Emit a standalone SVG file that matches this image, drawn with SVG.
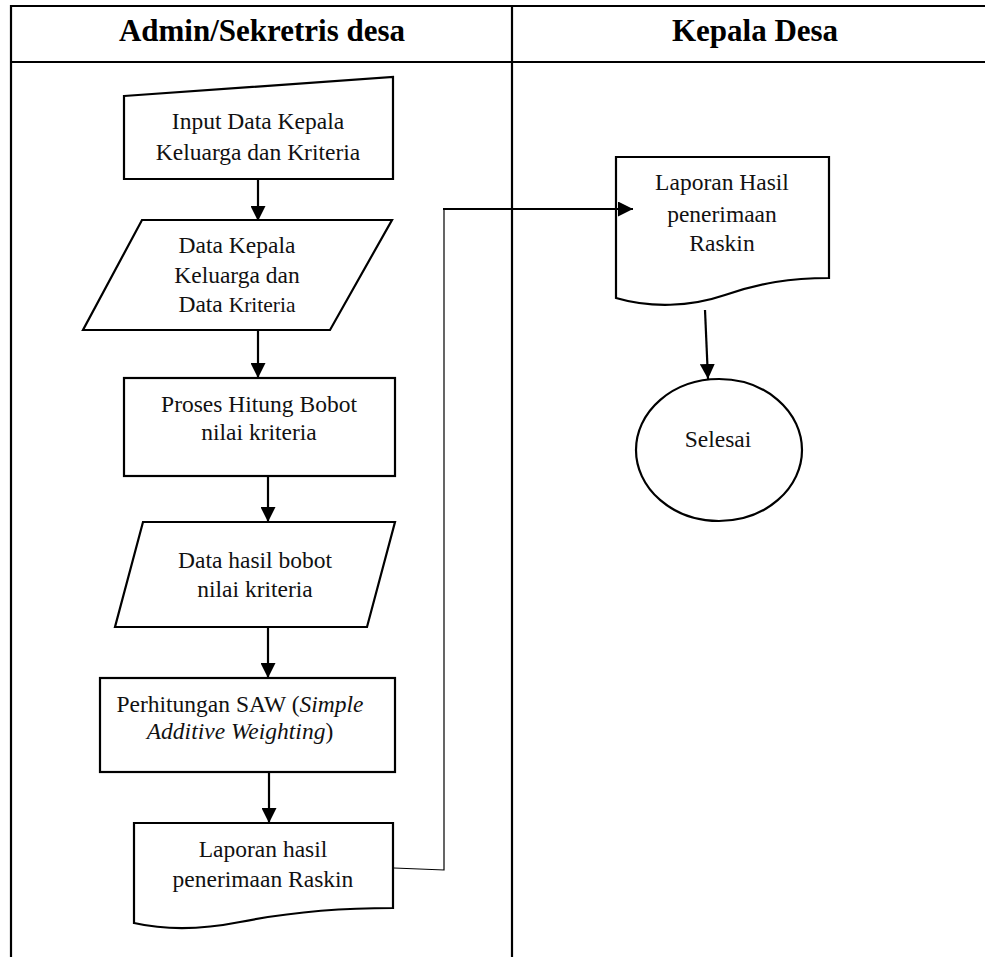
<svg xmlns="http://www.w3.org/2000/svg" width="985" height="957" viewBox="0 0 985 957">
<style>
.ln{stroke:#000;stroke-width:2.2;fill:none}
.sh{stroke:#000;stroke-width:2.2;fill:#fff}
.t{font-family:"Liberation Serif","Times New Roman",serif;font-size:23.5px;fill:#111;text-anchor:middle}
.h{font-family:"Liberation Serif","Times New Roman",serif;font-size:31px;font-weight:bold;fill:#000;text-anchor:middle}
.c{stroke:#000;stroke-width:2.2;fill:none}
.c1{stroke:#000;stroke-width:1.2;fill:none}
</style>
<defs>
<marker id="ah" viewBox="0 0 10 10" refX="10" refY="5" markerWidth="15" markerHeight="15" markerUnits="userSpaceOnUse" orient="auto">
<path d="M0,0 L10,5 L0,10 z" fill="#000"/>
</marker>
</defs>
<rect width="985" height="957" fill="#fff"/>
<g id="table">
<line class="ln" x1="11" y1="6" x2="985" y2="6"/>
<line class="ln" x1="11" y1="62" x2="985" y2="62"/>
<line class="ln" x1="11" y1="5" x2="11" y2="957"/>
<line class="ln" x1="512" y1="5" x2="512" y2="957"/>
<text class="h" x="262" y="41">Admin/Sekretris desa</text>
<text class="h" x="755" y="41">Kepala Desa</text>
</g>
<g id="input">
<polygon class="sh" points="124,96 393,77 393,179 124,179"/>
<text class="t" x="258" y="129">Input Data Kepala</text>
<text class="t" x="258" y="160">Keluarga dan Kriteria</text>
</g>
<g id="data1">
<polygon class="sh" points="142,220 392,220 330,330 83,330"/>
<text class="t" x="237" y="253">Data Kepala</text>
<text class="t" x="237" y="283">Keluarga dan</text>
<text class="t" x="237" y="312">Data <tspan font-size="21.5">Kriteria</tspan></text>
</g>
<g id="proses">
<rect class="sh" x="124" y="378" width="271" height="98"/>
<text class="t" x="259" y="412">Proses Hitung Bobot</text>
<text class="t" x="259" y="440">nilai kriteria</text>
</g>
<g id="data2">
<polygon class="sh" points="143,522 395,522 367,627 115,627"/>
<text class="t" x="255" y="568">Data hasil bobot</text>
<text class="t" x="255" y="597">nilai kriteria</text>
</g>
<g id="saw">
<rect class="sh" x="100" y="678" width="295" height="94"/>
<text class="t" x="240" y="712">Perhitungan SAW (<tspan font-style="italic">Simple</tspan></text>
<text class="t" x="240" y="739"><tspan font-style="italic">Additive Weighting</tspan>)</text>
</g>
<g id="laporan1">
<path class="sh" d="M134,823 L393,823 L393,908 C345,908 290,912 240,922 C200,930 165,930 134,923 Z"/>
<text class="t" x="263" y="857">Laporan hasil</text>
<text class="t" x="263" y="887">penerimaan Raskin</text>
</g>
<g id="laporan2">
<path class="sh" d="M616,157 L829,157 L829,278 C790,278 760,283 725,295 C690,307 650,308 616,298 Z"/>
<text class="t" x="722" y="190">Laporan Hasil</text>
<text class="t" x="722" y="222">penerimaan</text>
<text class="t" x="722" y="251">Raskin</text>
</g>
<g id="selesai">
<ellipse class="sh" cx="719" cy="450" rx="83" ry="71"/>
<text class="t" x="718" y="447">Selesai</text>
</g>
<g id="connectors">
<line class="c" x1="258" y1="180" x2="258" y2="221" marker-end="url(#ah)"/>
<line class="c" x1="258" y1="331" x2="258" y2="378" marker-end="url(#ah)"/>
<line class="c" x1="268" y1="477" x2="268" y2="522" marker-end="url(#ah)"/>
<line class="c" x1="268" y1="628" x2="268" y2="678" marker-end="url(#ah)"/>
<line class="c" x1="269" y1="773" x2="269" y2="823" marker-end="url(#ah)"/>
<polyline class="c1" points="394,868 444,870 444,209"/>
<line class="c" x1="443" y1="209" x2="633" y2="209" marker-end="url(#ah)"/>
<line class="c" x1="705" y1="310" x2="708" y2="379" marker-end="url(#ah)"/>
</g>
</svg>
